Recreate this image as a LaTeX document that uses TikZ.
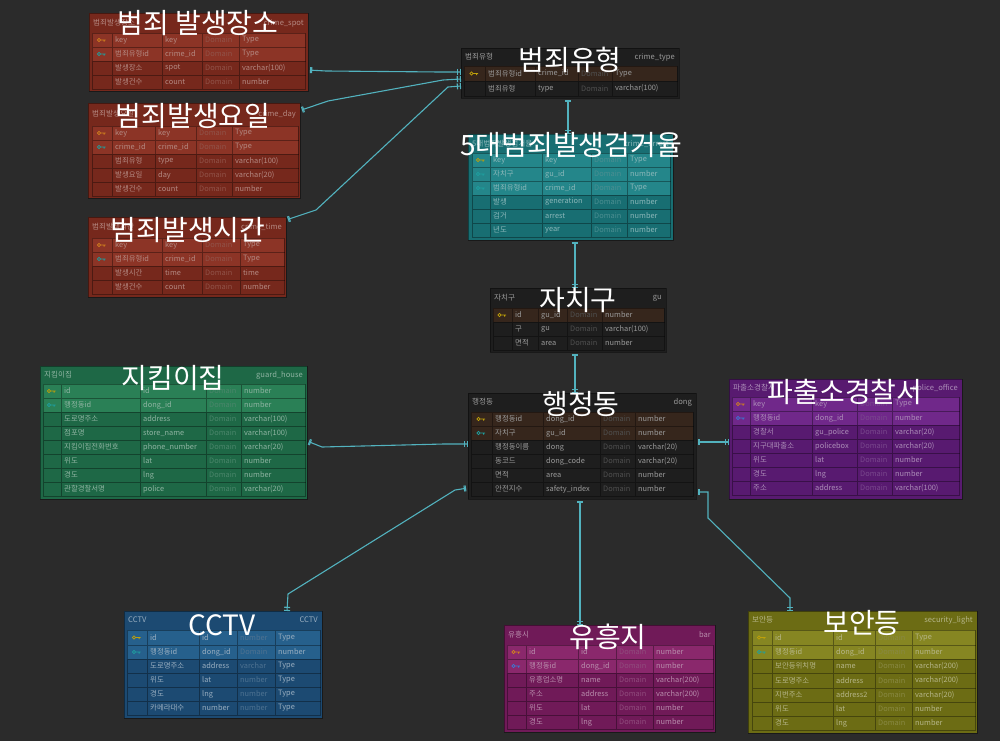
\documentclass[tikz,border=0pt]{standalone}
\usepackage{fontspec}
\setmainfont{Noto Sans CJK KR}
\usetikzlibrary{arrows.meta,calc}

% palette
\definecolor{canvas}{RGB}{43,43,43}
\definecolor{link}{RGB}{82,178,190}
\definecolor{redB}{RGB}{118,40,28}   \definecolor{redH}{RGB}{140,52,38}
\definecolor{darkB}{RGB}{30,30,30}   \definecolor{darkH}{RGB}{54,38,28}
\definecolor{tealB}{RGB}{24,110,114} \definecolor{tealH}{RGB}{36,134,138}
\definecolor{grnB}{RGB}{30,104,70}   \definecolor{grnH}{RGB}{42,128,86}
\definecolor{purB}{RGB}{88,26,112}   \definecolor{purH}{RGB}{112,40,138}
\definecolor{bluB}{RGB}{28,74,114}   \definecolor{bluH}{RGB}{38,96,140}
\definecolor{magB}{RGB}{112,26,88}   \definecolor{magH}{RGB}{138,40,108}
\definecolor{olvB}{RGB}{108,108,20}  \definecolor{olvH}{RGB}{134,134,34}
\definecolor{pkY}{RGB}{190,160,10}   \definecolor{pkO}{RGB}{210,130,30}
\definecolor{fkT}{RGB}{30,160,160}   \definecolor{fkB}{RGB}{60,120,210}

\tikzset{
  tablebox/.style={anchor=north west, inner sep=0pt, outer sep=0pt, draw=black, draw opacity=0.4, line width=0.6pt},
  cell/.style={font=\fontsize{7.4}{8}\selectfont, anchor=west, inner sep=0pt},
  headcell/.style={font=\fontsize{7.6}{8}\selectfont, inner sep=0pt},
  bigtitle/.style={text=white, font=\fontsize{28}{30}\selectfont, inner sep=0pt},
  conn/.style={draw=link, line width=1.1pt, {Bar[width=6pt,sep=2pt]Bar[width=6pt]}-{Bar[width=6pt,sep=2pt]Bar[width=6pt]}},
  grid/.style={draw=black, draw opacity=0.35, line width=0.5pt}
}

% column boundaries of the table being drawn
\newcommand\setcols[6]{\def\cxa{#1}\def\cxb{#2}\def\cxc{#3}\def\cxd{#4}\def\cxe{#5}\def\cxf{#6}}
\def\nokey{none}
% one attribute row: top, bottom, fill, key colour, four texts
\newcommand\erow[8]{%
  \fill[#3] (\cxa,#1) rectangle (\cxf,#2);
  \draw[grid] (\cxa,#1) rectangle (\cxf,#2)
    (\cxb,#1) -- (\cxb,#2) (\cxc,#1) -- (\cxc,#2)
    (\cxd,#1) -- (\cxd,#2) (\cxe,#1) -- (\cxe,#2);
  \def\kc{#4}%
  \ifx\kc\nokey\else
    \draw[#4, line width=0.8pt] ({(\cxa+\cxb)/2-3},{(#1+#2)/2}) circle (1.6pt)
      ++(1.6,0) -- ++(5,0) ++(-1.5,0) -- ++(0,1.6);
  \fi
  \node[cell,text=txt] at ({\cxb+3},{(#1+#2)/2}) {#5};
  \node[cell,text=txt] at ({\cxc+3},{(#1+#2)/2}) {#6};
  \node[cell,text=dom] at ({\cxd+3},{(#1+#2)/2}) {#7};
  \node[cell,text=txt] at ({\cxe+3},{(#1+#2)/2}) {#8};
}
% header texts: left x, right x, middle y, logical name, physical name
\newcommand\ehead[5]{%
  \node[headcell,text=txt,anchor=west] at (#1+4,#3) {#4};
  \node[headcell,text=txt,anchor=east] at (#2-4,#3) {#5};
}

\begin{document}
\begin{tikzpicture}[x=1pt,y=-1pt]
\fill[canvas] (0,0) rectangle (1000,741);
\useasboundingbox (0,0) rectangle (1000,741);

% ---------- crime_spot ----------
\colorlet{txt}{redB!55!white}\colorlet{dom}{redB!80!white}
\node[tablebox, fill=redB, minimum width=219pt, minimum height=78pt] (spot) at (89,13) {};
\ehead{89}{308}{23}{범죄발생장소}{crime\_spot}
\setcols{92}{112}{162}{202}{239}{305}
\erow{33}{47}{redH}{pkO}{key}{key}{Domain}{Type}
\erow{47}{61}{redH}{fkT}{범죄유형id}{crime\_id}{Domain}{Type}
\erow{61}{75}{redB}{none}{발생장소}{spot}{Domain}{varchar(100)}
\erow{75}{89}{redB}{none}{발생건수}{count}{Domain}{number}

% ---------- crime_day ----------
\node[tablebox, fill=redB, minimum width=212pt, minimum height=95pt] (day) at (88,103) {};
\ehead{88}{300}{114}{범죄발생요일}{crime\_day}
\setcols{92}{112}{155}{196}{232}{298}
\erow{126}{140}{redH}{pkO}{key}{key}{Domain}{Type}
\erow{140}{154}{redH}{fkT}{crime\_id}{crime\_id}{Domain}{Type}
\erow{154}{168}{redB}{none}{범죄유형}{type}{Domain}{varchar(100)}
\erow{168}{182}{redB}{none}{발생요일}{day}{Domain}{varchar(20)}
\erow{182}{196}{redB}{none}{발생건수}{count}{Domain}{number}

% ---------- crime_time ----------
\node[tablebox, fill=redB, minimum width=198pt, minimum height=80pt] (time) at (88,217) {};
\ehead{88}{286}{227}{범죄발생시간}{crime\_time}
\setcols{92}{112}{162}{202}{240}{284}
\erow{238}{252}{redH}{pkO}{key}{key}{Domain}{Type}
\erow{252}{266}{redH}{fkT}{범죄유형id}{crime\_id}{Domain}{Type}
\erow{266}{280}{redB}{none}{발생시간}{time}{Domain}{time}
\erow{280}{294}{redB}{none}{발생건수}{count}{Domain}{number}

% ---------- crime_type ----------
\colorlet{txt}{white!55!darkB}\colorlet{dom}{white!22!darkB}
\node[tablebox, fill=darkB, minimum width=218pt, minimum height=50pt] (type) at (461,48) {};
\ehead{461}{679}{57}{범죄유형}{crime\_type}
\setcols{464}{485}{535}{578}{612}{677}
\erow{66}{81}{darkH}{pkY}{범죄유형id}{crime\_id}{Domain}{Type}
\erow{81}{96}{darkB}{none}{범죄유형}{type}{Domain}{varchar(100)}

% ---------- crime_arrest ----------
\colorlet{txt}{tealB!50!white}\colorlet{dom}{tealB!78!white}
\node[tablebox, fill=tealB, minimum width=205pt, minimum height=106pt] (arrest) at (468,134) {};
\ehead{468}{673}{144}{5대범죄발생검거율}{crime\_arrest}
\setcols{472}{490}{542}{591}{627}{670}
\erow{153}{167}{tealH}{pkY}{key}{key}{Domain}{Type}
\erow{167}{181}{tealH}{fkT}{자치구}{gu\_id}{Domain}{number}
\erow{181}{195}{tealH}{fkT}{범죄유형id}{crime\_id}{Domain}{Type}
\erow{195}{209}{tealB}{none}{발생}{generation}{Domain}{number}
\erow{209}{223}{tealB}{none}{검거}{arrest}{Domain}{number}
\erow{223}{237}{tealB}{none}{년도}{year}{Domain}{number}

% ---------- gu ----------
\colorlet{txt}{white!55!darkB}\colorlet{dom}{white!22!darkB}
\node[tablebox, fill=darkB, minimum width=176pt, minimum height=64pt] (gu) at (490,288) {};
\ehead{490}{666}{298}{자치구}{gu}
\setcols{493}{512}{538}{567}{602}{664}
\erow{308}{322}{darkH}{pkY}{id}{gu\_id}{Domain}{number}
\erow{322}{336}{darkB}{none}{구}{gu}{Domain}{varchar(100)}
\erow{336}{350}{darkB}{none}{면적}{area}{Domain}{number}

% ---------- guard_house ----------
\colorlet{txt}{grnB!50!white}\colorlet{dom}{grnB!80!white}
\node[tablebox, fill=grnB, minimum width=267pt, minimum height=133pt] (guard) at (40,366) {};
\ehead{40}{307}{375}{지킴이집}{guard\_house}
\setcols{43}{61}{140}{206}{241}{305}
\erow{384}{398}{grnH}{pkY}{id}{id}{Domain}{number}
\erow{398}{412}{grnH}{fkT}{행정동id}{dong\_id}{Domain}{number}
\erow{412}{426}{grnB}{none}{도로명주소}{address}{Domain}{varchar(100)}
\erow{426}{440}{grnB}{none}{점포명}{store\_name}{Domain}{varchar(100)}
\erow{440}{454}{grnB}{none}{지킴이집전화번호}{phone\_number}{Domain}{varchar(20)}
\erow{454}{468}{grnB}{none}{위도}{lat}{Domain}{number}
\erow{468}{482}{grnB}{none}{경도}{lng}{Domain}{number}
\erow{482}{496}{grnB}{none}{관할경찰서명}{police}{Domain}{varchar(20)}

% ---------- dong ----------
\colorlet{txt}{white!55!darkB}\colorlet{dom}{white!22!darkB}
\node[tablebox, fill=darkB, minimum width=228pt, minimum height=106pt] (dong) at (468,393) {};
\ehead{468}{696}{402}{행정동}{dong}
\setcols{471}{492}{543}{600}{635}{693}
\erow{412}{426}{darkH}{pkY}{행정동id}{dong\_id}{Domain}{number}
\erow{426}{440}{darkH}{fkT}{자치구}{gu\_id}{Domain}{number}
\erow{440}{454}{darkB}{none}{행정동이름}{dong}{Domain}{varchar(20)}
\erow{454}{468}{darkB}{none}{동코드}{dong\_code}{Domain}{varchar(20)}
\erow{468}{482}{darkB}{none}{면적}{area}{Domain}{number}
\erow{482}{496}{darkB}{none}{안전지수}{safety\_index}{Domain}{number}

% ---------- police_office ----------
\colorlet{txt}{purB!50!white}\colorlet{dom}{purB!80!white}
\node[tablebox, fill=purB, minimum width=233pt, minimum height=120pt] (police) at (729,379) {};
\ehead{729}{962}{388}{파출소경찰서}{police\_office}
\setcols{732}{750}{812}{857}{892}{959}
\erow{397}{411}{purH}{pkO}{key}{key}{Domain}{Type}
\erow{411}{425}{purH}{fkB}{행정동id}{dong\_id}{Domain}{number}
\erow{425}{439}{purB}{none}{경찰서}{gu\_police}{Domain}{varchar(20)}
\erow{439}{453}{purB}{none}{지구대파출소}{policebox}{Domain}{varchar(20)}
\erow{453}{467}{purB}{none}{위도}{lat}{Domain}{number}
\erow{467}{481}{purB}{none}{경도}{lng}{Domain}{number}
\erow{481}{495}{purB}{none}{주소}{address}{Domain}{varchar(100)}

% ---------- CCTV ----------
\colorlet{txt}{bluB!45!white}\colorlet{dom}{bluB!78!white}
\node[tablebox, fill=bluB, minimum width=198pt, minimum height=107pt] (cctv) at (124,611) {};
\ehead{124}{322}{620}{CCTV}{CCTV}
\setcols{127}{147}{199}{237}{275}{320}
\erow{630}{645}{bluH}{pkY}{id}{id}{number}{Type}
\erow{645}{659}{bluH}{fkT}{행정동id}{dong\_id}{Domain}{number}
\erow{659}{673}{bluB}{none}{도로명주소}{address}{varchar}{Type}
\erow{673}{687}{bluB}{none}{위도}{lat}{number}{Type}
\erow{687}{701}{bluB}{none}{경도}{lng}{number}{Type}
\erow{701}{715}{bluB}{none}{카메라대수}{number}{number}{Type}

% ---------- bar ----------
\colorlet{txt}{magB!50!white}\colorlet{dom}{magB!78!white}
\node[tablebox, fill=magB, minimum width=211pt, minimum height=107pt] (bar) at (504,625) {};
\ehead{504}{715}{635}{유흥시}{bar}
\setcols{507}{526}{578}{616}{653}{713}
\erow{645}{659}{magH}{pkO}{id}{id}{Domain}{number}
\erow{659}{673}{magH}{fkB}{행정동id}{dong\_id}{Domain}{number}
\erow{673}{687}{magB}{none}{유흥업소명}{name}{Domain}{varchar(200)}
\erow{687}{701}{magB}{none}{주소}{address}{Domain}{varchar(200)}
\erow{701}{715}{magB}{none}{위도}{lat}{Domain}{number}
\erow{715}{729}{magB}{none}{경도}{lng}{Domain}{number}

% ---------- security_light ----------
\colorlet{txt}{olvB!50!white}\colorlet{dom}{olvB!80!white}
\node[tablebox, fill=olvB, minimum width=229pt, minimum height=122pt] (light) at (748,611) {};
\ehead{748}{977}{620}{보안등}{security\_light}
\setcols{752}{772}{833}{875}{912}{975}
\erow{630}{645}{olvH}{pkY}{id}{id}{Domain}{Type}
\erow{645}{659}{olvH}{fkT}{행정동id}{dong\_id}{Domain}{number}
\erow{659}{673}{olvB}{none}{보안등위치명}{name}{Domain}{varchar(200)}
\erow{673}{688}{olvB}{none}{도로명주소}{address}{Domain}{varchar(200)}
\erow{688}{702}{olvB}{none}{지번주소}{address2}{Domain}{varchar(20)}
\erow{702}{716}{olvB}{none}{위도}{lat}{Domain}{number}
\erow{716}{730}{olvB}{none}{경도}{lng}{Domain}{number}

% ---------- relationships ----------
\draw[conn] ([yshift=-18pt]spot.east) -- (326,71) -- (440,72) -- ([yshift=1pt]type.west);
\draw[conn] ([yshift=40pt]day.east) -- (328,101) -- (443,80) -- ([yshift=-6pt]type.west);
\draw[conn] ([yshift=37pt]time.east) -- (316,210) -- (448,87) -- ([yshift=-13pt]type.west);
\draw[conn] ([xshift=-2pt]type.south) -- ([xshift=-2.5pt]arrest.north);
\draw[conn] ([xshift=4.5pt]arrest.south) -- ([xshift=-3pt]gu.north);
\draw[conn] ([xshift=-3pt]gu.south) -- ([xshift=-7pt]dong.north);
\draw[conn] ([yshift=-8.5pt]guard.east) -- (322,447) -- (444,444) -- ([yshift=2pt]dong.west);
\draw[conn] ([yshift=4pt]dong.east) -- ([yshift=-3pt]police.west);
\draw[conn] ([yshift=-42pt]dong.west) -- (455,490) -- (288,594) -- ([xshift=64pt]cctv.north);
\draw[conn] ([xshift=-2pt]dong.south) -- ([xshift=-29.5pt]bar.north);
\draw[conn] ([yshift=-46pt]dong.east) -- (708,492) -- (708,518) -- (790,598) -- ([xshift=-72.5pt]light.north);

% ---------- titles ----------
\node[bigtitle] (tspot) at (198,23) {범죄 발생장소};
\node[bigtitle] (tday) at (193,116) {범죄발생요일};
\node[bigtitle] (ttime) at (188,230) {범죄발생시간};
\node[bigtitle] (ttype) at (570,60) {범죄유형};
\node[bigtitle] (tarrest) at (571,145) {5대범죄발생검거율};
\node[bigtitle] (tgu) at (578,300) {자치구};
\node[bigtitle] (tguard) at (173,378) {지킴이집};
\node[bigtitle] (tdong) at (581,404) {행정동};
\node[bigtitle] (tpolice) at (845,392) {파출소경찰서};
\node[bigtitle] (tcctv) at (222,625) {CCTV};
\node[bigtitle] (tbar) at (608,637) {유흥지};
\node[bigtitle] (tlight) at (862,623) {보안등};
\end{tikzpicture}
\end{document}
